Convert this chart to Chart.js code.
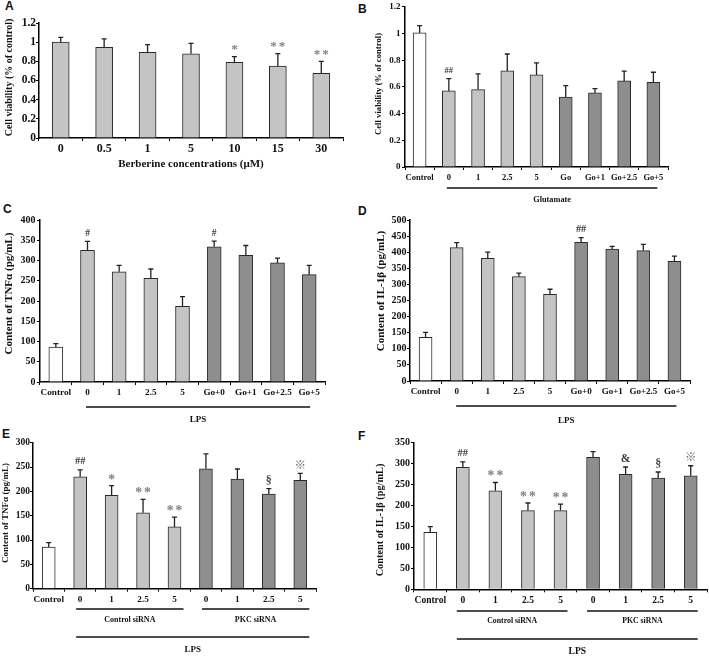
<!DOCTYPE html>
<html><head><meta charset="utf-8">
<script src="https://cdn.jsdelivr.net/npm/chart.js@4.4.1/dist/chart.umd.min.js"></script>
<style>
html,body{margin:0;padding:0;background:#fff;}
body{width:709px;height:656px;position:relative;overflow:hidden;}
canvas{position:absolute;}
.lab{position:absolute;font:bold 12px "Liberation Sans",Arial,sans-serif;line-height:12px;color:#111;}
</style></head><body>
<div class="lab" style="left:5px;top:0px">A</div>
<div class="lab" style="left:358px;top:3px">B</div>
<div class="lab" style="left:3px;top:203px">C</div>
<div class="lab" style="left:358px;top:205px">D</div>
<div class="lab" style="left:2px;top:428px">E</div>
<div class="lab" style="left:358px;top:430px">F</div>
<script>
// ---------- data ----------
const catsA = ['0','0.5','1','5','10','15','30'];
const valsA = [1.00, 0.945, 0.895, 0.878, 0.79, 0.75, 0.675];
const sdA   = [0.05, 0.09, 0.08, 0.11, 0.06, 0.13, 0.125];
const sigA  = ['','','','','*','**','**'];
const colsA = ['l','l','l','l','l','l','l'];

const catsB = ['Control','0','1','2.5','5','Go','Go+1','Go+2.5','Go+5'];
const valsB = [1.005, 0.57, 0.58, 0.72, 0.69, 0.525, 0.555, 0.645, 0.635];
const sdB   = [0.055, 0.093, 0.118, 0.127, 0.09, 0.085, 0.032, 0.073, 0.075];
const sigB  = ['','##','','','','','','',''];
const groupsB = [{label:'Glutamate', from:1, to:8, level:0}];

const catsC = ['Control','0','1','2.5','5','Go+0','Go+1','Go+2.5','Go+5'];
const valsC = [86, 325, 272, 256, 187, 334, 313, 294, 265];
const sdC   = [9, 22, 16, 23, 24, 14, 24, 12, 23];
const sigC  = ['','#','','','','#','','',''];
const groupsC = [{label:'LPS', from:1, to:8, level:0}];

const catsD = ['Control','0','1','2.5','5','Go+0','Go+1','Go+2.5','Go+5'];
const valsD = [136, 414, 381, 324, 269, 431, 410, 405, 372];
const sdD   = [15, 16, 19, 11, 16, 14, 8, 19, 16];
const sigD  = ['','','','','','##','','',''];
const groupsD = [{label:'LPS', from:1, to:8, level:0}];

const catsE = ['Control','0','1','2.5','5','0','1','2.5','5'];
const valsE = [85.5, 230, 192, 156, 127, 246.5, 225, 194.5, 222.5];
const sdE   = [9, 14, 20, 27.5, 20, 30.5, 21, 11, 14.5];
const sigE  = ['','##','*','**','**','','','§','※'];
const groupsE = [{label:'Control siRNA', from:1, to:4, level:0},{label:'PKC siRNA', from:5, to:8, level:0},{label:'LPS', from:1, to:8, level:1}];

const catsF = ['Control','0','1','2.5','5','0','1','2.5','5'];
const valsF = [136, 291, 235, 188, 188, 315, 274.5, 265.5, 271];
const sdF   = [13.5, 13, 20, 18, 15.5, 13.5, 17.5, 14.5, 24];
const sigF  = ['','##','**','**','**','','&','§','※'];
const groupsF = [{label:'Control siRNA', from:1, to:4, level:0},{label:'PKC siRNA', from:5, to:8, level:0},{label:'LPS', from:1, to:8, level:1}];

const colsStd = ['w','l','l','l','l','d','d','d','d'];

const ticksViab  = [0, 0.2, 0.4, 0.6, 0.8, 1, 1.2];
const labelsViab = ['0','0.2','0.4','0.6','0.8','1','1.2'];
const ticksC  = [0,50,100,150,200,250,300,350,400];
const labelsC = ['0','50','100','150','200','250','300','350','400'];
const ticksD  = [0,50,100,150,200,250,300,350,400,450,500];
const labelsD = ['0','50','100','150','200','250','300','350','400','450','500'];
const ticksE  = [0,50,100,150,200,250,300];
const labelsE = ['0','50','100','150','200','250','300'];
const ticksF  = [0,50,100,150,200,250,300,350];
const labelsF = ['0','50','100','150','200','250','300','350'];

const titleViab = 'Cell viability (% of control)';
const titleTNF  = 'Content of TNFα (pg/mL)';
const titleIL   = 'Content of IL-1β (pg/mL)';
const xTitleA   = 'Berberine concentrations (μM)';

// ---------- styling ----------
const FONT = '"Liberation Serif","Times New Roman",serif';
const COLORS = {w:'#ffffff', l:'#c4c4c4', d:'#8e8e8e'};
const SIG = {
  '*': {size:12.5, color:'#808080', fam:FONT, gap:2},
  '#': {size:9.5,  color:'#3a3a3a', fam:FONT, gap:0},
  '§': {size:11, color:'#4a4a4a', fam:FONT, gap:0},
  '&': {size:10.5, color:'#3a3a3a', fam:FONT, gap:0},
  '※': {size:10.5,  color:'#666', fam:'"Noto Sans CJK JP","DejaVu Sans",sans-serif', gap:0}
};

function panel(p) {
  const cv = document.createElement('canvas');
  cv.width = p.box.w; cv.height = p.box.h;
  cv.style.left = p.box.x + 'px'; cv.style.top = p.box.y + 'px';
  cv.style.width = p.box.w + 'px'; cv.style.height = p.box.h + 'px';
  document.body.appendChild(cv);
  const yW = p.area.l - p.box.x;
  const xH = p.box.y + p.box.h - p.area.b;

  const annot = {
    id: 'annot',
    afterDatasetsDraw(chart) {
      const ctx = chart.ctx, ys = chart.scales.y;
      const meta = chart.getDatasetMeta(0);
      ctx.save();
      ctx.strokeStyle = '#222'; ctx.lineWidth = 1.3;
      p.vals.forEach((v, i) => {
        const x = meta.data[i].x;
        const y0 = ys.getPixelForValue(v), y1 = ys.getPixelForValue(v + p.sd[i]);
        ctx.beginPath();
        ctx.moveTo(x, y0); ctx.lineTo(x, y1);
        ctx.moveTo(x - p.cap, y1); ctx.lineTo(x + p.cap, y1);
        ctx.stroke();
        const s = p.sig[i];
        if (s) {
          const st = SIG[s[0]];
          const size = st.size * (p.ms || 1);
          ctx.font = 'bold ' + size + 'px ' + st.fam;
          ctx.fillStyle = st.color;
          ctx.textBaseline = 'alphabetic'; ctx.textAlign = 'left';
          const chars = Array.from(s);
          const ws = chars.map(c => ctx.measureText(c).width);
          const total = ws.reduce((a, b) => a + b, 0) + st.gap * (chars.length - 1);
          const m = ctx.measureText(chars[0]);
          const cy = y1 - 9;
          const by = cy + (m.actualBoundingBoxAscent - m.actualBoundingBoxDescent) / 2;
          let cx = x - total / 2;
          chars.forEach((c, k) => { ctx.fillText(c, cx, by); cx += ws[k] + st.gap; });
        }
      });
      ctx.restore();
    },
    afterDraw(chart) {
      const ctx = chart.ctx, xs = chart.scales.x;
      const bottom = chart.chartArea.bottom;
      ctx.save();
      (p.groups || []).forEach(g => {
        const lv = p.levels[g.level];
        const x1 = xs.getPixelForValue(g.from) - p.ext[0];
        const x2 = xs.getPixelForValue(g.to) + p.ext[1];
        const y = bottom + lv.line;
        ctx.strokeStyle = '#111'; ctx.lineWidth = 1.6;
        ctx.beginPath(); ctx.moveTo(x1, y); ctx.lineTo(x2, y); ctx.stroke();
        ctx.font = 'bold ' + lv.size + 'px ' + FONT;
        ctx.fillStyle = '#111'; ctx.textAlign = 'center'; ctx.textBaseline = 'middle';
        ctx.fillText(g.label, (x1 + x2) / 2, bottom + lv.text);
      });
      // y-axis title
      ctx.translate(p.yt.x - p.box.x, p.yt.y - p.box.y);
      ctx.rotate(-Math.PI / 2);
      ctx.font = 'bold ' + p.yt.size + 'px ' + FONT;
      ctx.fillStyle = '#111'; ctx.textAlign = 'center'; ctx.textBaseline = 'middle';
      ctx.fillText(p.yTitle, 0, 0);
      ctx.restore();
    }
  };

  new Chart(cv, {
    type: 'bar',
    data: {
      labels: p.cats,
      datasets: [{
        data: p.vals,
        backgroundColor: p.cols.map(c => COLORS[c]),
        borderColor: '#2a2a2a', borderWidth: 1,
        barThickness: p.bw, borderSkipped: 'start'
      }]
    },
    options: {
      responsive: false, animation: false, devicePixelRatio: 1,
      layout: { padding: { left: 0, right: p.box.x + p.box.w - p.area.r, top: p.area.t - p.box.y, bottom: 0 } },
      plugins: { legend: { display: false }, tooltip: { enabled: false } },
      scales: {
        x: {
          type: 'category', offset: true,
          grid: { display: true, drawOnChartArea: false, drawTicks: true, tickLength: 3, offset: true, color: '#000', lineWidth: 1 },
          border: { display: true, color: '#000', width: 1.5 },
          ticks: { autoSkip: false, maxRotation: 0, minRotation: 0, padding: p.xpad, color: '#111',
                   font: { family: FONT, size: p.xfs, weight: 'bold' } },
          title: p.xTitle ? { display: true, text: p.xTitle, color: '#111',
                   font: { family: FONT, size: 11, weight: 'bold' }, padding: { top: 0, bottom: 1 } } : { display: false },
          afterFit: s => { s.height = xH; }
        },
        y: {
          type: 'linear', min: p.ticks[0], max: p.ticks[p.ticks.length - 1],
          grid: { display: true, drawOnChartArea: false, drawTicks: true, tickLength: 3, color: '#000', lineWidth: 1 },
          border: { display: true, color: '#000', width: 1.5 },
          ticks: { padding: p.ypad, color: '#111', font: { family: FONT, size: p.yfs, weight: 'bold' },
                   callback: (v, i) => p.tickLabels[i] },
          afterBuildTicks: s => { s.ticks = p.ticks.map(v => ({ value: v })); },
          afterFit: s => { s.width = yW; }
        }
      }
    },
    plugins: [annot]
  });
}

panel({ box:{x:0,y:0,w:355,h:172}, area:{l:39,t:23,r:343,b:138},
  cats:catsA, vals:valsA, sd:sdA, sig:sigA, cols:colsA, bw:17, cap:2.5,
  ticks:ticksViab, tickLabels:labelsViab, xfs:12, yfs:11.5, xpad:0.8, ypad:0,
  xTitle:xTitleA, yTitle:titleViab, yt:{x:9,y:77.5,size:10}, ms:1.05 });

panel({ box:{x:355,y:0,w:354,h:205}, area:{l:405,t:5,r:668,b:167},
  cats:catsB, vals:valsB, sd:sdB, sig:sigB, cols:colsStd, bw:13, cap:2.5,
  ticks:ticksViab, tickLabels:labelsViab, xfs:8.5, yfs:9, xpad:2.9, ypad:1.5,
  groups:groupsB, levels:[{line:21, text:33, size:8.3}], ext:[2,4],
  yTitle:titleViab, yt:{x:379,y:84,size:8.7}, ms:0.9 });

panel({ box:{x:0,y:200,w:355,h:228}, area:{l:40,t:220,r:325,b:382},
  cats:catsC, vals:valsC, sd:sdC, sig:sigC, cols:colsStd, bw:14, cap:2.5,
  ticks:ticksC, tickLabels:labelsC, xfs:9.2, yfs:10, xpad:2.5, ypad:1.5,
  groups:groupsC, levels:[{line:25, text:38, size:9}], ext:[1.5,1],
  yTitle:titleTNF, yt:{x:9,y:293.5,size:11}, ms:1 });

panel({ box:{x:355,y:200,w:354,h:228}, area:{l:410,t:220,r:690,b:381},
  cats:catsD, vals:valsD, sd:sdD, sig:sigD, cols:colsStd, bw:13, cap:2.5,
  ticks:ticksD, tickLabels:labelsD, xfs:9, yfs:10, xpad:2.6, ypad:0.5,
  groups:groupsD, levels:[{line:25, text:40, size:9}], ext:[0.5,2],
  yTitle:titleIL, yt:{x:381,y:291,size:11}, ms:1.1 });

panel({ box:{x:0,y:420,w:355,h:236}, area:{l:33,t:442.7,r:316,b:588.7},
  cats:catsE, vals:valsE, sd:sdE, sig:sigE, cols:colsStd, bw:13, cap:2.5,
  ticks:ticksE, tickLabels:labelsE, xfs:9.2, yfs:9.5, xpad:2.8, ypad:0,
  groups:groupsE, levels:[{line:20.3, text:31.3, size:8},{line:48.3, text:61.3, size:9}], ext:[4,9],
  yTitle:titleTNF, yt:{x:5.5,y:513,size:9}, ms:1.1 });

panel({ box:{x:355,y:420,w:354,h:236}, area:{l:414,t:442.7,r:707,b:589.3},
  cats:catsF, vals:valsF, sd:sdF, sig:sigF, cols:colsStd, bw:13, cap:2.5,
  ticks:ticksF, tickLabels:labelsF, xfs:9.5, yfs:10, xpad:3, ypad:1,
  groups:groupsF, levels:[{line:21.7, text:31.7, size:7.8},{line:49.7, text:62.7, size:9.6}], ext:[6,7],
  yTitle:titleIL, yt:{x:380,y:520,size:10.3}, ms:1.1 });
</script>
</body></html>
